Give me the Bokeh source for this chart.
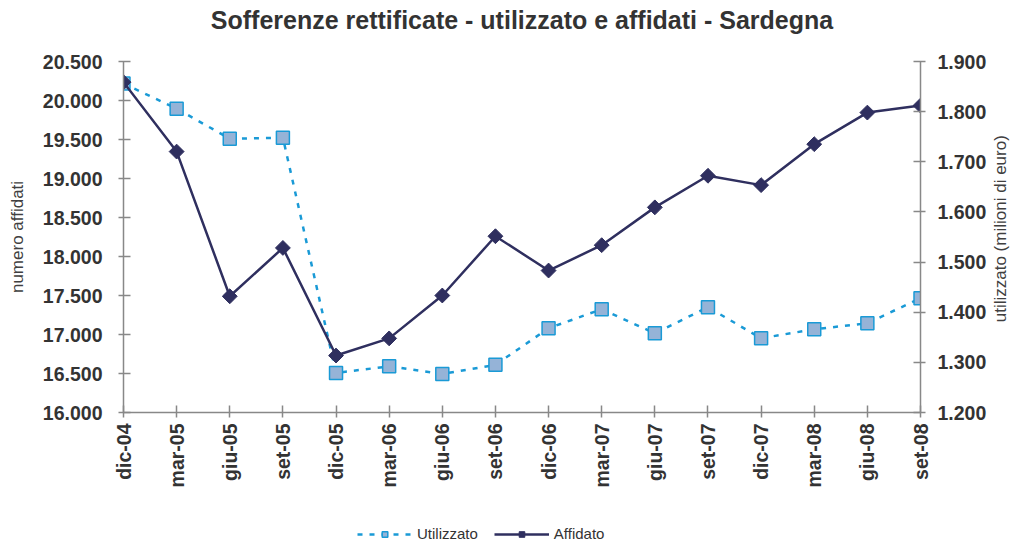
import math
from bokeh.plotting import figure
from bokeh.layouts import column
from bokeh.models import (Range1d, LinearAxis, FixedTicker, Legend, LegendItem, Title)
from bokeh.embed import file_html
from bokeh.resources import INLINE

# ---- data ----
months = ["dic-04", "mar-05", "giu-05", "set-05", "dic-05", "mar-06", "giu-06", "set-06",
          "dic-06", "mar-07", "giu-07", "set-07", "dic-07", "mar-08", "giu-08", "set-08"]
affidato = [20235, 19345, 17490, 18110, 16730, 16950, 17500, 18260,
            17820, 18145, 18630, 19035, 18915, 19440, 19845, 19935]
utilizzato = [1856, 1806, 1746, 1748, 1279, 1292, 1277, 1295,
              1368, 1406, 1358, 1410, 1348, 1366, 1378, 1428]
left_ticks = [16000, 16500, 17000, 17500, 18000, 18500, 19000, 19500, 20000, 20500]
right_ticks = [1200, 1300, 1400, 1500, 1600, 1700, 1800, 1900]
series_names = ["Utilizzato", "Affidato"]

title = "Sofferenze rettificate - utilizzato e affidati - Sardegna"
left_label = "numero affidati"
right_label = "utilizzato (milioni di euro)"
FONT = "Liberation Sans"
TXT = "#333333"
AX = "#888888"
UL = "#1a9ad6"
AF = "#2f2f5f"


def it_fmt(v):
    return f"{v:,}".replace(",", ".")


x = list(range(len(months)))

p = figure(frame_width=797, frame_height=351,
           min_border_left=123, min_border_right=96, min_border_top=61, min_border_bottom=112,
           x_range=Range1d(0, len(months) - 1),
           y_range=Range1d(left_ticks[0], left_ticks[-1]),
           output_backend="svg", toolbar_location=None)
p.extra_y_ranges = {"util": Range1d(right_ticks[0], right_ticks[-1])}

# title on top, a blank spacer between it and the frame
real_title = Title(text=title, align="center", vertical_align="bottom",
                   text_font=FONT, text_font_size="25px", text_font_style="bold",
                   text_color=TXT, standoff=2)
spacer = Title(text=" ", text_font_size="1px", standoff=24)
p.title = real_title
p.add_layout(spacer, "above")

p.outline_line_color = None
p.xgrid.visible = False
p.ygrid.visible = False
p.background_fill_color = "white"
p.border_fill_color = "white"


def style_axis(ax):
    ax.axis_line_color = AX
    ax.axis_line_width = 1.5
    ax.major_tick_line_color = AX
    ax.major_tick_line_width = 1.5
    ax.major_tick_in = 7
    ax.major_tick_out = 5
    ax.minor_tick_line_color = None
    ax.major_label_text_font = FONT
    ax.major_label_text_font_size = "19.5px"
    ax.major_label_text_font_style = "bold"
    ax.major_label_text_color = TXT
    ax.axis_label_text_font = FONT
    ax.axis_label_text_font_size = "17px"
    ax.axis_label_text_font_style = "normal"
    ax.axis_label_text_color = "#404040"


# x axis
xa = p.xaxis[0]
style_axis(xa)
xa.ticker = FixedTicker(ticks=x)
xa.major_label_overrides = {i: m for i, m in zip(x, months)}
xa.major_label_orientation = math.pi / 2
xa.major_label_standoff = 6

# left axis
ya = p.yaxis[0]
style_axis(ya)
ya.ticker = FixedTicker(ticks=left_ticks)
ya.major_label_overrides = {t: it_fmt(t) for t in left_ticks}
ya.axis_label = left_label
ya.major_label_standoff = 16
ya.axis_label_standoff = 13

# right axis (ticks)
ra = LinearAxis(y_range_name="util")
style_axis(ra)
ra.ticker = FixedTicker(ticks=right_ticks)
ra.major_label_overrides = {t: it_fmt(t) for t in right_ticks}
ra.major_label_standoff = 12
p.add_layout(ra, "right")

# right axis title, reading bottom-to-top (drawn as the single label of a bare axis)
label_anchor = 1380
rl = LinearAxis(y_range_name="util", ticker=FixedTicker(ticks=[label_anchor]),
                major_label_overrides={label_anchor: right_label},
                major_label_orientation=math.pi / 2,
                axis_line_color=None, major_tick_line_color=None, minor_tick_line_color=None,
                major_tick_in=0, major_tick_out=0, major_label_standoff=11,
                major_label_text_font=FONT, major_label_text_font_size="17px",
                major_label_text_font_style="normal", major_label_text_color="#404040")
p.add_layout(rl, "right")

# series
line_u = dict(line_color=UL, line_width=2.5, line_dash="5 7")
mark_u = dict(marker="square", size=13, fill_color="#95b3d7", line_color=UL, line_width=1.5)
line_a = dict(line_color=AF, line_width=2.5)
mark_a = dict(marker="square", angle=math.pi / 4, size=10.5, fill_color=AF,
              line_color=AF, line_width=1)

p.line(x, utilizzato, y_range_name="util", **line_u)
p.scatter(x, utilizzato, y_range_name="util", **mark_u)
p.line(x, affidato, **line_a)
p.scatter(x, affidato, **mark_a)

# legend strip below the chart (its own small canvas, frame aligned with the chart's);
# its renderers carry the same series but lie outside this strip's ranges
lg = figure(width=1016, height=18, x_range=Range1d(0, 1), y_range=Range1d(0, 1),
            x_axis_type=None, y_axis_type=None, min_border=0,
            output_backend="svg", toolbar_location=None)
lg.outline_line_color = None
lg.xgrid.visible = False
lg.ygrid.visible = False
lg.background_fill_color = "white"
lg.border_fill_color = "white"
k1 = lg.line(x, utilizzato, **line_u)
k2 = lg.scatter(x, utilizzato, **mark_u)
k3 = lg.line(x, affidato, **line_a)
k4 = lg.scatter(x, affidato, **mark_a)

legend = Legend(items=[LegendItem(label=series_names[0], renderers=[k1, k2]),
                       LegendItem(label=series_names[1], renderers=[k3, k4])],
                location=(234, 0), orientation="horizontal",
                border_line_color=None, background_fill_alpha=0,
                label_text_font=FONT, label_text_font_size="15px", label_text_color=TXT,
                glyph_width=55, glyph_height=14, spacing=16, padding=0, margin=0,
                label_standoff=5)
lg.add_layout(legend, "center")

layout = column(p, lg, spacing=0)
open("out.html", "w").write(file_html(layout, INLINE))
